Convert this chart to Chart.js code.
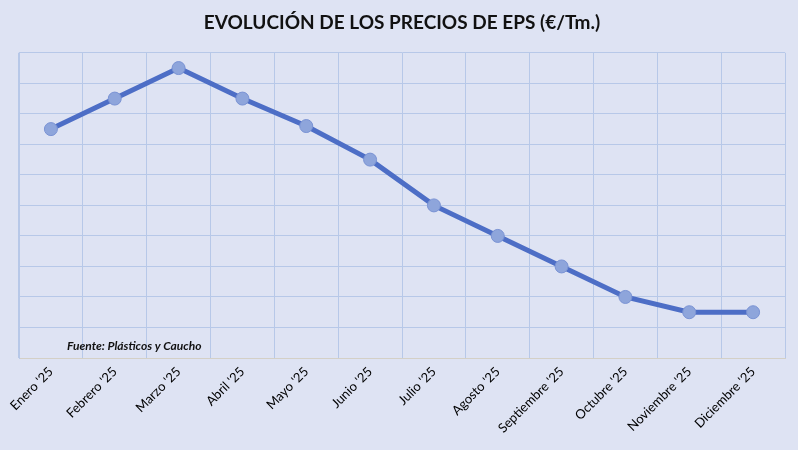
<!DOCTYPE html>
<html>
<head>
<meta charset="utf-8">
<script src="https://cdn.jsdelivr.net/npm/chart.js@4"></script>
<style>
  html, body { margin: 0; padding: 0; background: #dee3f3; }
  #wrap { width: 798px; height: 450px; }
</style>
</head>
<body>
<div id="wrap"><canvas id="chart"></canvas></div>
<script>
const months = ['Enero \'25', 'Febrero \'25', 'Marzo \'25', 'Abril \'25', 'Mayo \'25', 'Junio \'25',
  'Julio \'25', 'Agosto \'25', 'Septiembre \'25', 'Octubre \'25', 'Noviembre \'25', 'Diciembre \'25']
const prices = [7.5, 8.5, 9.5, 8.5, 7.6, 6.5, 5, 4, 3, 2, 1.5, 1.5]
const yMin = 0
const yMax = 10

const bgPlugin = {
  id: 'bg',
  beforeDraw(chart) {
    const ctx = chart.ctx
    ctx.save()
    ctx.fillStyle = '#dee3f3'
    ctx.fillRect(0, 0, chart.width, chart.height)
    ctx.restore()
  },
  afterDraw(chart) {
    const ctx = chart.ctx
    const area = chart.chartArea
    ctx.save()
    ctx.font = 'italic bold 12px Lato, "Open Sans", sans-serif'
    ctx.fillStyle = '#111'
    ctx.textBaseline = 'middle'
    ctx.fillText('Fuente: Plásticos y Caucho', area.left + 48, area.bottom - 12)
    ctx.restore()
  },
}

new Chart(document.getElementById('chart'), {
  type: 'line',
  data: {
    labels: months,
    datasets: [
      {
        data: prices,
        borderColor: '#4d6ec6',
        borderWidth: 5,
        pointRadius: 6.5,
        pointBackgroundColor: '#8ea5db',
        pointBorderColor: '#7a93d4',
        pointBorderWidth: 1,
        tension: 0,
      },
    ],
  },
  options: {
    responsive: true,
    maintainAspectRatio: false,
    animation: false,
    layout: { padding: { left: 19, right: 13, top: 0, bottom: 8 } },
    plugins: {
      legend: { display: false },
      tooltip: { enabled: false },
      title: {
        display: true,
        text: 'EVOLUCIÓN DE LOS PRECIOS DE EPS (€/Tm.)',
        color: '#111',
        font: { size: 19, weight: 'bold', family: 'Lato, "Open Sans", sans-serif' },
        padding: { top: 11, bottom: 19 },
      },
    },
    scales: {
      x: {
        offset: true,
        grid: { offset: true, color: '#b7c8e8', lineWidth: 1, drawTicks: false },
        border: { color: '#d4d0c6' },
        ticks: {
          color: '#000',
          font: { size: 13, family: 'Lato, "Open Sans", sans-serif' },
          maxRotation: 45,
          minRotation: 45,
          autoSkip: false,
          padding: 6,
        },
        afterFit(scale) { scale.height = 84 },
      },
      y: {
        min: yMin,
        max: yMax,
        ticks: { display: false, stepSize: 1 },
        grid: { color: '#b7c8e8', lineWidth: 1, drawTicks: false },
        border: { color: '#b7c8e8' },
        afterFit(scale) { scale.width = 0 },
      },
    },
  },
  plugins: [bgPlugin],
})
</script>
</body>
</html>
